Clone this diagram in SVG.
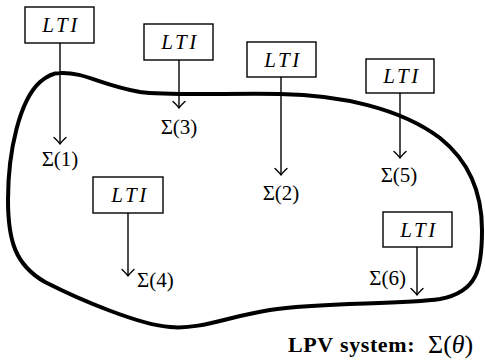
<svg xmlns="http://www.w3.org/2000/svg" width="485" height="361" viewBox="0 0 485 361">
<defs>
<style>
text{font-family:"Liberation Serif","Times New Roman","DejaVu Serif",serif}
.box{fill:#fff;stroke:#000;stroke-width:1.4}
.lti{font-style:italic;font-size:21px;letter-spacing:2.5px;text-anchor:middle}
.sig{font-size:21px}
.cap{font-size:22px;font-weight:bold;letter-spacing:0.6px}
.arr{fill:none;stroke:#000;stroke-width:1.4;marker-end:url(#ah)}
</style>
<marker id="ah" markerUnits="userSpaceOnUse" viewBox="-8 -7 10 14" refX="0" refY="0" markerWidth="10" markerHeight="14" orient="auto">
<path d="M -6.5,-6 Q -2,-1.2 0,0 Q -2,1.2 -6.5,6" fill="none" stroke="#000" stroke-width="1.4" stroke-linecap="round"/>
</marker>
</defs>
<rect width="485" height="361" fill="#fff"/>
<g id="lpv-region">
<path d="M 60,73 C 85,72 100,85 140,92 C 170,96 230,93 280,94 C 340,95 400,108 440,138 C 470,162 482,195 482,230 C 482,268 478,292 440,299 C 400,305 320,302 270,310 C 230,316 200,330 170,327 C 140,325 80,300 45,282 C 15,265 8,240 8,200 C 8,150 20,100 40,82 C 47,76 53,73 60,73 Z" fill="none" stroke="#000" stroke-width="4"/>
</g>
<g id="connectors">
<line class="arr" x1="60" y1="43" x2="60" y2="144"/>
<line class="arr" x1="179" y1="60" x2="179" y2="108"/>
<line class="arr" x1="281" y1="77" x2="281" y2="175"/>
<line class="arr" x1="400" y1="93" x2="400" y2="158"/>
<line class="arr" x1="128" y1="213" x2="128" y2="276"/>
<line class="arr" x1="417" y1="247" x2="417" y2="295"/>
</g>
<g id="lti1"><rect class="box" x="25" y="7" width="69" height="36"/><text class="lti" x="61" y="32">LTI</text></g>
<g id="lti3"><rect class="box" x="144" y="24" width="69" height="36"/><text class="lti" x="180" y="49">LTI</text></g>
<g id="lti2"><rect class="box" x="247" y="42" width="69" height="35"/><text class="lti" x="283" y="67">LTI</text></g>
<g id="lti5"><rect class="box" x="366" y="59" width="68" height="34"/><text class="lti" x="402" y="83">LTI</text></g>
<g id="lti4"><rect class="box" x="93" y="177" width="70" height="36"/><text class="lti" x="130" y="202">LTI</text></g>
<g id="lti6"><rect class="box" x="383" y="212" width="69" height="35"/><text class="lti" x="419" y="237">LTI</text></g>
<g id="labels">
<text class="sig" x="60" y="166" text-anchor="middle">Σ(1)</text>
<text class="sig" x="179" y="134" text-anchor="middle">Σ(3)</text>
<text class="sig" x="281" y="200" text-anchor="middle">Σ(2)</text>
<text class="sig" x="399" y="182" text-anchor="middle">Σ(5)</text>
<text class="sig" x="137" y="287">Σ(4)</text>
<text class="sig" x="406" y="285" text-anchor="end">Σ(6)</text>
</g>
<g id="caption">
<text class="cap" x="288" y="352">LPV</text>
<text class="cap" x="340" y="352">system:</text>
<text x="428" y="353" font-size="26">Σ(<tspan font-style="italic">θ</tspan>)</text>
</g>
</svg>
